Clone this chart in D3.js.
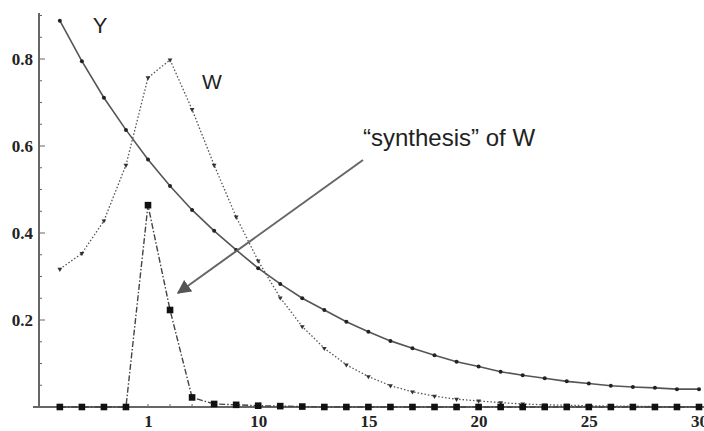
<!DOCTYPE html>
<html>
<head>
<meta charset="utf-8">
<style>
  body { margin: 0; background: #fff; }
  .tick text { font-family: "Liberation Serif", "DejaVu Serif", serif; font-weight: bold; font-size: 17px; fill: #222; }
  .lbl { font-family: "Liberation Sans", Arial, sans-serif; fill: #222; }
</style>
</head>
<body>
<svg id="chart" width="704" height="431"></svg>
<script src="https://cdn.jsdelivr.net/npm/d3@7"></script>
<script>
// data, x = 1..30
var steps = d3.range(1, 31);
var yValues = [0.888, 0.795, 0.711, 0.637, 0.569, 0.508, 0.453, 0.405, 0.361, 0.319,
               0.283, 0.250, 0.223, 0.196, 0.173, 0.152, 0.135, 0.119, 0.104, 0.093,
               0.081, 0.073, 0.066, 0.059, 0.054, 0.049, 0.046, 0.044, 0.041, 0.041];
var wValues = [0.317, 0.353, 0.428, 0.556, 0.757, 0.798, 0.684, 0.556, 0.437, 0.336,
               0.251, 0.185, 0.135, 0.097, 0.070, 0.049, 0.035, 0.025, 0.018, 0.014,
               0.010, 0.007, 0.005, 0.004, 0.003, 0.002, 0.002, 0.001, 0.001, 0.001];
var synthValues = [0, 0, 0, 0, 0.464, 0.223, 0.022, 0.007, 0.005, 0.003,
                   0.002, 0.001, 0, 0, 0, 0, 0, 0, 0, 0,
                   0, 0, 0, 0, 0, 0, 0, 0, 0, 0];
var xTickValues = [5, 10, 15, 20, 25, 30];
var xTickLabels = ["1", "10", "15", "20", "25", "30"];
var yTickValues = [0.2, 0.4, 0.6, 0.8];

var svg = d3.select('#chart');
var x = d3.scaleLinear().domain([0, 30]).range([37.8, 699]);
var y = d3.scaleLinear().domain([0, 0.9]).range([407, 15.5]);

// axes
svg.append('line').attr('x1', 33).attr('x2', 704).attr('y1', y(0)).attr('y2', y(0))
    .attr('stroke', '#666').attr('stroke-width', 2);
svg.append('line').attr('x1', 39).attr('x2', 39).attr('y1', 13).attr('y2', y(0))
    .attr('stroke', '#666').attr('stroke-width', 2);

// minor ticks
svg.selectAll('.xminor').data(steps).enter().append('line')
    .attr('x1', function (d) { return x(d); }).attr('x2', function (d) { return x(d); })
    .attr('y1', y(0)).attr('y2', y(0) - 3).attr('stroke', '#666');
svg.selectAll('.yminor').data(d3.range(1, 19)).enter().append('line')
    .attr('x1', 39).attr('x2', function (d) { return d % 4 === 0 ? 45 : 42; })
    .attr('y1', function (d) { return y(d * 0.05); }).attr('y2', function (d) { return y(d * 0.05); })
    .attr('stroke', '#666');

var xAxis = svg.append('g').attr('transform', 'translate(0,' + y(0) + ')')
    .call(d3.axisBottom(x).tickValues(xTickValues).tickSize(0).tickPadding(5)
        .tickFormat(function (d, i) { return xTickLabels[i]; }));
xAxis.select('.domain').remove();
xAxis.selectAll('text').attr('dy', '0.9em');

var yAxis = svg.append('g').attr('transform', 'translate(39,0)')
    .call(d3.axisLeft(y).tickValues(yTickValues).tickSize(0).tickPadding(6));
yAxis.select('.domain').remove();

// series
var line = function (vals) {
    return d3.line().x(function (d, i) { return x(steps[i]); }).y(function (d) { return y(d); })(vals);
};
svg.append('path').attr('d', line(yValues)).attr('fill', 'none')
    .attr('stroke', '#555').attr('stroke-width', 1.6);
svg.append('path').attr('d', line(wValues)).attr('fill', 'none')
    .attr('stroke', '#555').attr('stroke-width', 1.3).attr('stroke-dasharray', '1.5,2');
svg.append('path').attr('d', line(synthValues)).attr('fill', 'none')
    .attr('stroke', '#444').attr('stroke-width', 1.4).attr('stroke-dasharray', '6,2,1.5,2');

svg.selectAll('.ydot').data(yValues).enter().append('circle')
    .attr('cx', function (d, i) { return x(steps[i]); }).attr('cy', function (d) { return y(d); })
    .attr('r', 2).attr('fill', '#222');
svg.selectAll('.wdot').data(wValues).enter().append('path')
    .attr('transform', function (d, i) { return 'translate(' + x(steps[i]) + ',' + y(d) + ') rotate(180)'; })
    .attr('d', d3.symbol().type(d3.symbolTriangle).size(10)).attr('fill', '#333');
svg.selectAll('.sdot').data(synthValues).enter().append('rect')
    .attr('x', function (d, i) { return x(steps[i]) - 3.3; }).attr('y', function (d) { return y(d) - 3.3; })
    .attr('width', 6.6).attr('height', 6.6).attr('fill', '#111');

// labels and arrow
svg.append('defs').append('marker').attr('id', 'head')
    .attr('viewBox', '0 0 10 10').attr('refX', 9).attr('refY', 5)
    .attr('markerWidth', 7).attr('markerHeight', 7).attr('orient', 'auto')
    .append('path').attr('d', 'M0,0L10,5L0,10z').attr('fill', '#555');
svg.append('line').attr('x1', 363).attr('y1', 160).attr('x2', 178).attr('y2', 293)
    .attr('stroke', '#666').attr('stroke-width', 2).attr('marker-end', 'url(#head)');

svg.append('text').attr('class', 'lbl').attr('x', 100).attr('y', 33)
    .attr('text-anchor', 'middle').attr('font-size', 22).text('Y');
svg.append('text').attr('class', 'lbl').attr('x', 212).attr('y', 89)
    .attr('text-anchor', 'middle').attr('font-size', 21).text('W');
svg.append('text').attr('class', 'lbl').attr('x', 363).attr('y', 146)
    .attr('font-size', 24).text('\u201csynthesis\u201d of W');
</script>
</body>
</html>
